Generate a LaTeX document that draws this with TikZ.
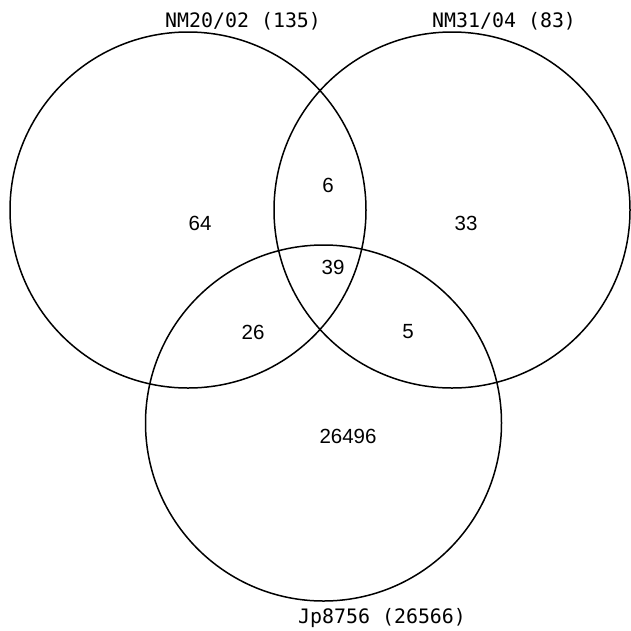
\documentclass[tikz,border=0pt]{standalone}
\usepackage{fontspec}
\setmainfont{Liberation Sans}
\newfontfamily\labelfont{DejaVu Sans Mono}
\begin{document}
\begin{tikzpicture}[x=1pt,y=-1pt,
  setcircle/.style={draw=black,line width=1.5pt},
  setlabel/.style={font=\labelfont\fontsize{19.9}{22}\selectfont,inner sep=0pt,anchor=base west},
  count/.style={font=\fontsize{20.5}{22}\selectfont,inner sep=0pt,anchor=center}]
\useasboundingbox (0,0) rectangle (631,630);
\fill[white] (0,0) rectangle (631,630);
\coordinate (cA) at (188,210);
\coordinate (cB) at (452,210);
\coordinate (cC) at (323.5,423);
\draw[setcircle] (cA) circle[radius=178];
\draw[setcircle] (cB) circle[radius=178];
\draw[setcircle] (cC) circle[radius=178];
\node[setlabel] (lA) at (165,27) {NM20/02 (135)};
\node[setlabel] (lB) at (432,27) {NM31/04 (83)};
\node[setlabel] (lC) at (298,623) {Jp8756 (26566)};
\node[count] (nA) at (200,223) {64};
\node[count] (nB) at (466,223) {33};
\node[count] (nAB) at (328,185) {6};
\node[count] (nABC) at (333,267) {39};
\node[count] (nAC) at (253,332) {26};
\node[count] (nBC) at (408,332) {5};
\node[count] (nC) at (348,436) {26496};
\end{tikzpicture}
\end{document}
